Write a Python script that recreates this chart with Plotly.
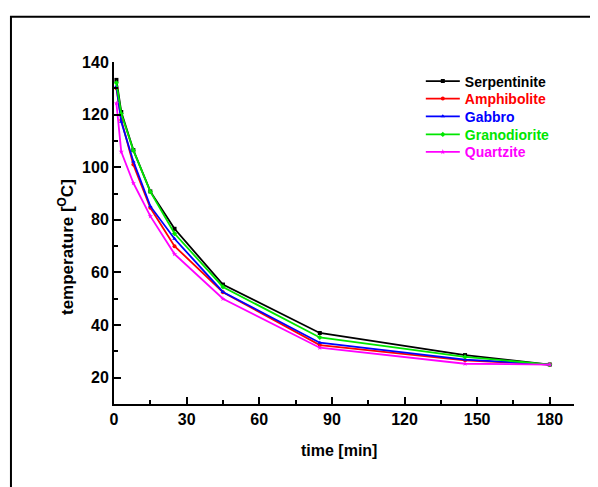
import plotly.graph_objects as go

# Cooling curves
time_min = [1, 3, 8, 15, 25, 45, 85, 145, 180]
serpentinite = [133.2, 121.0, 106.5, 90.8, 76.6, 55.4, 37.0, 28.6, 25.0]
amphibolite = [130.0, 118.0, 101.0, 84.6, 70.0, 52.5, 32.4, 26.6, 25.0]
gabbro = [130.8, 117.3, 102.2, 85.2, 72.8, 52.6, 33.3, 26.9, 25.0]
granodiorite = [132.1, 120.3, 106.4, 90.7, 74.8, 54.5, 35.3, 27.9, 25.0]
quartzite = [124.3, 105.9, 94.0, 81.4, 67.0, 50.0, 31.4, 25.3, 25.0]

rocks = ["Serpentinite", "Amphibolite", "Gabbro", "Granodiorite", "Quartzite"]
colors = ["#000000", "#ff0000", "#0000ff", "#00e600", "#ff00ff"]
symbols = ["square", "circle", "triangle-up", "diamond", "star"]
values = [serpentinite, amphibolite, gabbro, granodiorite, quartzite]

font_family = "Liberation Sans, Arial, sans-serif"

fig = go.Figure()

# one small legend per rock so the rows can sit as tight as in the original
legend_ids = ["legend", "legend2", "legend3", "legend4", "legend5"]
legend_rows = [0.943, 0.892, 0.840, 0.787, 0.736]

for i in range(len(rocks)):
    fig.add_trace(go.Scatter(
        x=time_min,
        y=values[i],
        mode="lines+markers",
        name="<b><span style='color:%s'>%s</span></b>" % (colors[i], rocks[i]),
        legend=legend_ids[i],
        line=dict(color=colors[i], width=1.8),
        marker=dict(symbol=symbols[i], size=4, color=colors[i]),
    ))

for i in range(len(rocks)):
    fig.update_layout({legend_ids[i]: dict(
        x=0.667, y=legend_rows[i], xanchor="left", yanchor="middle",
        bgcolor="rgba(0,0,0,0)",
        font=dict(family=font_family, size=14),
        itemwidth=34,
    )})

# Origin style axes: ticks pointing into the plot, bold labels
axis_style = dict(
    showline=True,
    linecolor="black",
    linewidth=2,
    ticks="inside",
    ticklen=7,
    tickwidth=2,
    tickcolor="black",
    showgrid=False,
    zeroline=False,
    mirror=False,
    tickfont=dict(family=font_family, size=16, color="black", weight="bold"),
    title_font=dict(family=font_family, size=16, color="black"),
)

# the page body adds 8px, so margins are trimmed by 8 on the left/top
fig.update_layout(
    width=598,
    height=487,
    paper_bgcolor="white",
    plot_bgcolor="white",
    margin=dict(l=106, r=32, t=54, b=91),
    font=dict(family=font_family, size=14, color="black"),
    showlegend=True,
    xaxis=dict(
        range=[0, 190],
        tickvals=[0, 30, 60, 90, 120, 150, 180],
        minor=dict(ticks="inside", ticklen=4, tickwidth=2, tickcolor="black", dtick=15),
        ticklabelstandoff=0,
        **axis_style,
    ),
    yaxis=dict(
        range=[10, 140],
        tickvals=[20, 40, 60, 80, 100, 120, 140],
        minor=dict(ticks="inside", ticklen=4, tickwidth=2, tickcolor="black", dtick=10),
        ticklabelstandoff=0,
        **axis_style,
    ),
)

# x title, slightly left of the axis centre as in the original
fig.add_annotation(
    text="<b>time [min]</b>",
    xref="paper", yref="paper", x=0.489, y=0,
    xanchor="center", yanchor="middle", yshift=-46,
    showarrow=False,
    font=dict(family=font_family, size=16, color="black"),
)

# y title sits a little below the axis centre in the original
fig.add_annotation(
    text="<b>temperature [<sup>O</sup>C]</b>",
    xref="paper", yref="paper", x=0, y=0.459,
    xanchor="center", yanchor="middle", xshift=-48,
    textangle=-90, showarrow=False,
    font=dict(family=font_family, size=17, color="black"),
)

# outer frame running off the right and bottom edges
fig.add_shape(
    type="rect", xref="paper", yref="paper",
    x0=-0.224, y0=-2, x1=2, y1=1.132,
    line=dict(color="black", width=2), fillcolor="rgba(0,0,0,0)", layer="below",
)

fig.write_html("out.html")
